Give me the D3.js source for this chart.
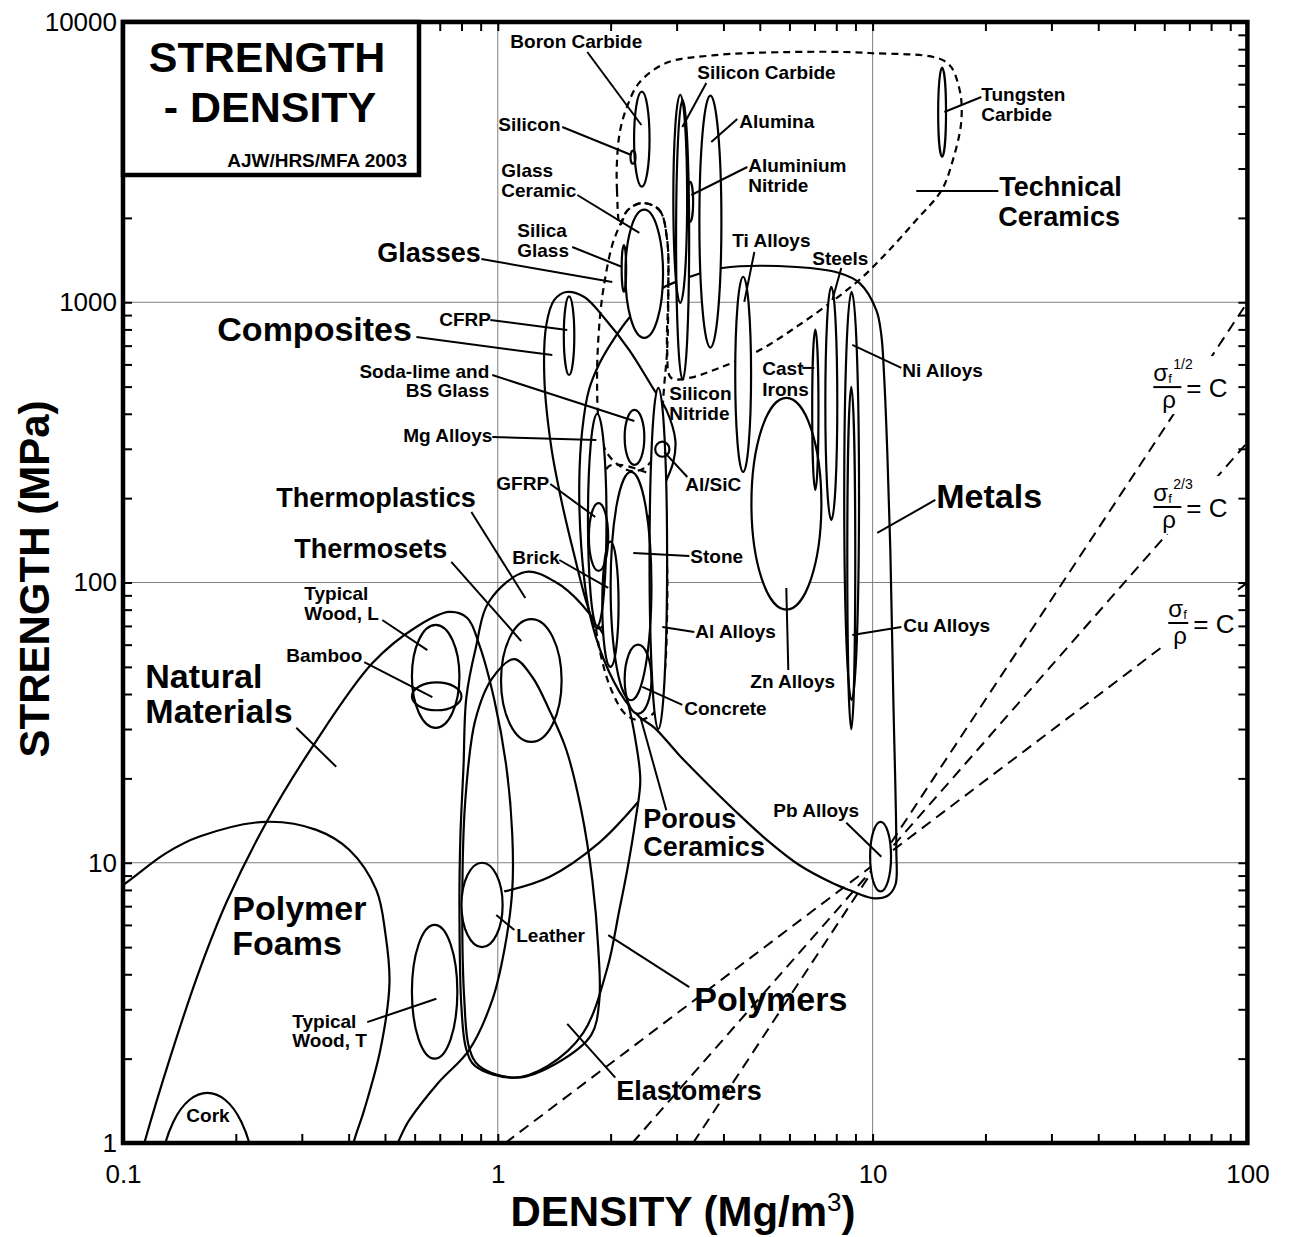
<!DOCTYPE html>
<html><head><meta charset="utf-8">
<script src="https://cdn.jsdelivr.net/npm/d3@7"></script>
<style>body{margin:0;background:#fff}svg{display:block}</style>
</head><body>
<svg id="chart" width="1293" height="1237"></svg>
<script>
// ---------------- DATA (density Mg/m3, strength MPa) ----------------
const xTickValues = [0.1, 1, 10, 100];
const xTickLabels = ["0.1", "1", "10", "100"];
const yTickValues = [1, 10, 100, 1000, 10000];
const yTickLabels = ["1", "10", "100", "1000", "10000"];

// material bubbles: [name, densityMin, densityMax, strengthMin, strengthMax]
const materials = [
  ["Boron carbide", 2.31, 2.54, 2584, 5640],
  ["Silicon", 2.26, 2.33, 3120, 3475],
  ["Silicon nitride", 2.99, 3.24, 529, 5280],
  ["Silicon carbide", 2.94, 3.2, 995, 5500],
  ["Aluminium nitride", 3.2, 3.32, 1935, 2690],
  ["Alumina", 3.45, 3.95, 689, 5460],
  ["Glass ceramic", 2.19, 2.76, 746, 2140],
  ["Silica glass", 2.14, 2.2, 1090, 1600],
  ["Tungsten carbide", 14.96, 15.7, 3300, 6870],
  ["Soda-lime and BS glass", 2.18, 2.46, 263, 413],
  ["Al/SiC", 2.63, 2.87, 281, 318],
  ["CFRP", 1.5, 1.6, 550, 1050],
  ["Mg alloys", 1.74, 1.95, 70, 400],
  ["GFRP", 1.75, 1.97, 110, 192],
  ["Al alloys", 2.54, 2.83, 30, 495],
  ["Stone", 2.0, 2.57, 38, 248],
  ["Brick", 1.9, 2.1, 50, 140],
  ["Concrete", 2.18, 2.57, 34, 60],
  ["Ti alloys", 4.3, 4.74, 248, 1233],
  ["Zn alloys", 4.75, 7.3, 80, 456],
  ["Cast irons", 6.9, 7.17, 214, 798],
  ["Steels", 7.48, 8.05, 167, 1135],
  ["Ni alloys", 8.4, 9.2, 38, 1090],
  ["Cu alloys", 8.56, 8.99, 30, 499],
  ["Pb alloys", 9.85, 11.2, 7.9, 14],
  ["Typical wood, L", 0.59, 0.79, 30.3, 70.6],
  ["Bamboo", 0.59, 0.8, 35, 44],
  ["Typical wood, T", 0.59, 0.78, 2.0, 6.0],
  ["Leather", 0.8, 1.03, 5.0, 10],
  ["Cork", 0.125, 0.2255, 0.3, 1.51]
];

// family envelopes (solid)
const metalsEnvelope = [[2.39,33.1],[2.18,38.1],[1.92,52.9],[1.75,79.8],[1.67,134],[1.65,232],[1.68,350],[1.75,486],[1.87,607],[2.05,746],[2.24,879],[2.46,1000],[2.75,1124],[3.24,1230],[3.97,1325],[6.26,1336],[8.15,1272],[9.22,1172],[10.23,938],[10.55,764],[10.74,537],[10.94,297],[11.15,131],[11.36,38.1],[11.57,11.1],[11.5,8.33],[10.94,7.61],[9.98,7.48],[8.67,7.99],[7.81,8.47],[6.37,9.82],[5.21,12.1],[4.28,15.4],[3.6,19.3],[3.05,24.2],[2.62,30.3]];
const compositesEnvelope = [[1.523,1088],[1.701,1044],[1.924,879],[2.243,675],[2.584,498],[2.816,413],[2.976,322],[2.939,269],[2.782,223],[2.506,167],[2.243,120],[2.046,86.6],[1.924,70.5],[1.832,68.8],[1.733,83.1],[1.6,125],[1.477,197],[1.389,304],[1.331,537],[1.347,829],[1.415,1019]];
const naturalEnvelope = [[0.104,0.63],[0.114,1.0],[0.133,1.98],[0.16,4.14],[0.19,7.36],[0.241,13.9],[0.32,25.9],[0.463,51.6],[0.606,69.4],[0.742,78.5],[0.829,74.7],[0.893,59.8],[0.979,38.1],[1.054,22.0],[1.093,12.6],[1.093,8.0],[1.041,4.88],[0.967,3.24],[0.839,2.15],[0.694,1.64],[0.581,1.21],[0.483,0.80],[0.217,0.49]];
const foamsEnvelope = [[0.0676,3.82],[0.0864,7.36],[0.1,8.33],[0.13,10.8],[0.16,12.4],[0.241,14.0],[0.328,13.1],[0.402,11.1],[0.474,8.0],[0.501,5.62],[0.514,3.72],[0.486,2.15],[0.44,1.31],[0.412,1.0],[0.39,0.68],[0.16,0.49],[0.0676,0.94]];
const polymersEnvelope = [[1.184,109],[1.415,101],[1.68,83.1],[2.0,58.4],[2.215,38.1],[2.33,27.4],[2.40,19.7],[2.33,14.2],[2.215,9.42],[2.11,6.78],[1.96,4.21],[1.69,2.47],[1.356,1.88],[1.10,1.71],[0.871,1.88],[0.824,2.16],[0.80,3.03],[0.79,7.13],[0.795,12.6],[0.81,22.0],[0.824,38.7],[0.871,57.4],[0.95,85.9]];
const polymersLowerEdge = [[2.37,16.5],[1.866,11.8],[1.372,8.9],[1.04,7.9]];
const elastomersEnvelope = [[1.106,53.3],[1.236,46.0],[1.372,35.1],[1.523,25.3],[1.67,15.4],[1.787,8.68],[1.855,4.88],[1.866,3.24],[1.776,2.43],[1.459,1.95],[1.127,1.71],[0.8925,1.88],[0.839,2.18],[0.814,3.24],[0.804,7.36],[0.819,16.7],[0.871,32.3],[0.967,45.6]];
const thermosetsEnvelope = [1.02, 1.48, 27, 74];

// family envelopes (dashed)
const techCeramicsEnvelope = [[2.12,1890],[2.08,2500],[2.08,3200],[2.12,4100],[2.22,5050],[2.39,6100],[2.82,7150],[3.74,7600],[5.64,7800],[9.8,7750],[15.7,7200],[17.0,5850],[17.25,4450],[16.3,3150],[15.25,2500],[13.1,1970],[11.1,1540],[9.4,1230],[7.9,1020],[6.37,830],[5.0,675],[3.9,583],[3.24,537],[2.9,537],[2.83,675],[2.85,1100],[2.83,1670],[2.7,2130],[2.43,2260],[2.22,2130]];
const glassesEnvelope = [[2.43,2260],[2.7,2130],[2.83,1670],[2.85,1100],[2.83,675],[2.78,507],[2.73,380],[2.62,285],[2.46,256],[2.27,250],[2.08,265],[1.95,292],[1.87,350],[1.84,537],[1.87,865],[1.92,1150],[2.02,1600],[2.12,1890],[2.22,2130]];
const porousCeramicsEnvelope = [[2.11,263],[2.39,252],[2.62,236],[2.75,197],[2.82,131],[2.83,78],[2.77,45],[2.62,34.5],[2.39,32.3],[2.2,33.7],[2.01,41.3],[1.87,57.4],[1.8,86.6],[1.83,154],[1.9,232],[1.98,260]];

// performance-index guide lines: [[d1,s1],[d2,s2]]
const guideLines = [
  [[3.32, 1], [100, 1000]],
  [[2.285, 1], [100, 316]],
  [[1.047, 1], [100, 100]]
];
const guideLabels = [
  { num: "1/2", d: 56.1, s: 498 },
  { num: "2/3", d: 56.1, s: 186 },
  { num: "", d: 61.5, s: 71.7 }
];

// labels: [text, density, strength, sizeClass, anchor]
const labels = [
  ["Boron Carbide",1.08,8075,"s"],["Silicon Carbide",3.406,6260,"s"],["Silicon",1.003,4083,"s"],
  ["Alumina",4.409,4186,"s"],["Aluminium",4.659,2916,"s"],["Nitride",4.659,2474,"s"],
  ["Glass",1.022,2799,"s"],["Ceramic",1.022,2375,"s"],["Silica",1.127,1709,"s"],["Glass",1.127,1450,"s"],
  ["Glasses",0.477,1392,"m"],["Technical",21.78,2394,"m"],["Ceramics",21.65,1871,"m"],
  ["Tungsten",19.5,5225,"s"],["Carbide",19.5,4434,"s"],["Ti Alloys",4.224,1574,"s"],["Steels",6.905,1358,"s"],
  ["Ni Alloys",12.0,541,"s"],["Cast",5.078,550,"s"],["Irons",5.078,463,"s"],["Metals",14.79,184.5,"l"],
  ["Composites",0.1785,727,"l"],["CFRP",0.698,823,"s"],["Soda-lime and",0.9491,537,"s","end"],
  ["BS Glass",0.9491,459,"s","end"],["Silicon",2.868,448,"s"],["Nitride",2.868,380,"s"],
  ["Mg Alloys",0.9667,317,"s","end"],["Al/SiC",3.164,212,"s"],["GFRP",0.9908,213.9,"s"],
  ["Thermoplastics",0.2564,186,"m"],["Thermosets",0.2864,122.3,"m"],["Brick",1.093,116.4,"s"],
  ["Stone",3.263,117.4,"s"],["Al Alloys",3.365,63.4,"s"],["Concrete",3.145,33.7,"s"],
  ["Cu Alloys",12.07,66.6,"s"],["Zn Alloys",4.717,42.0,"s"],["Typical",0.3046,86.6,"s"],
  ["Wood, L",0.3046,73.5,"s"],["Bamboo",0.2727,52.0,"s"],["Natural",0.1147,42.0,"l"],
  ["Materials",0.1147,31.5,"l"],["Polymer",0.1957,6.25,"l"],["Foams",0.1957,4.69,"l"],
  ["Leather",1.12,5.22,"s"],["Typical",0.2829,2.57,"s"],["Wood, T",0.2829,2.20,"s"],
  ["Polymers",3.344,2.96,"l"],["Elastomers",2.071,1.42,"m"],["Porous",2.445,13.3,"m"],
  ["Ceramics",2.445,10.6,"m"],["Pb Alloys",5.434,14.6,"s"],["Cork",0.1476,1.19,"s"]
];

// leader lines: [d1, s1, d2, s2]
const leaders = [
  [1.733,7816,2.416,4291],[3.600,6058,3.107,4221],[1.486,4221,2.271,3353],[4.355,4507,3.712,3730],
  [4.631,3038,3.283,2414],[1.63,2414,2.386,1767],[1.58,1574,2.148,1336],[0.9036,1427,2.02,1181],
  [13.08,2495,21.65,2495],[15.54,4775,19.5,5400],[4.836,1511,4.546,1002],[8.251,1325,7.808,1019],
  [11.93,583,8.828,704],[6.493,583,6.99,583],[14.70,197,10.29,150.2],[0.6063,752,1.398,648],
  [0.955,864.5,1.532,796],[0.9667,550,2.313,377],[0.9667,330.6,1.832,322.5],[3.203,238,2.782,292],
  [1.381,224.6,1.82,171.3],[0.8499,178.5,1.184,88.1],[0.7515,118.4,1.155,61.8],[1.459,120.3,1.971,95.6],
  [3.243,124.3,2.299,127.4],[3.344,66.6,2.748,69.4],[3.107,36.6,2.43,42.4],[11.93,69.4,8.828,65.0],
  [5.958,48.7,5.885,95.6],[0.4918,73.5,0.6486,57.4],[0.4402,52.0,0.6689,39.0],[0.29,30.3,0.3707,22.0],
  [1.107,5.75,0.9908,6.51],[0.4484,2.70,0.6856,3.27],[3.243,3.60,1.971,5.52],[2.058,1.71,1.532,2.66],
  [2.816,15.4,2.401,33.1],[8.508,13.9,10.55,10.5]
];

// ---------------- DRAWING ----------------
const FONT = "'Liberation Sans', Arial, Helvetica, sans-serif";
const sizes = { s: 19, m: 27, l: 34 };
const svg = d3.select("#chart").attr("font-family", FONT);
const X0 = 123, X1 = 1247.4, Y0 = 22, Y1 = 1143;
const x = d3.scaleLog().domain([0.1, 100]).range([X0, X1]);
const y = d3.scaleLog().domain([1, 10000]).range([Y1, Y0]);

svg.append("rect").attr("width", 1293).attr("height", 1237).attr("fill", "#fff");
svg.append("defs").append("clipPath").attr("id", "plotClip")
  .append("rect").attr("x", X0).attr("y", Y0).attr("width", X1 - X0).attr("height", Y1 - Y0);

// gridlines at decades
const isDecade = d => Math.abs(Math.log10(d) - Math.round(Math.log10(d))) < 1e-9;
const decadeX = x.ticks().filter(d => isDecade(d) && d > 0.1 && d < 100);
const decadeY = y.ticks().filter(d => isDecade(d) && d > 1 && d < 10000);
const grid = svg.append("g").attr("stroke", "#808080").attr("stroke-width", 1);
grid.selectAll(".gx").data(decadeX).join("line")
  .attr("x1", d => x(d)).attr("x2", d => x(d)).attr("y1", Y0).attr("y2", Y1);
grid.selectAll(".gy").data(decadeY).join("line")
  .attr("y1", d => y(d)).attr("y2", d => y(d)).attr("x1", X0).attr("x2", X1);

const plot = svg.append("g").attr("clip-path", "url(#plotClip)");
const closed = d3.line().x(p => x(p[0])).y(p => y(p[1])).curve(d3.curveCatmullRomClosed.alpha(0.5));
const open = d3.line().x(p => x(p[0])).y(p => y(p[1])).curve(d3.curveCatmullRom.alpha(0.5));

const envStyle = sel => sel.attr("fill", "none").attr("stroke", "#000").attr("stroke-width", 2.2);
[metalsEnvelope, compositesEnvelope, naturalEnvelope, foamsEnvelope, polymersEnvelope, elastomersEnvelope]
  .forEach(env => plot.append("path").attr("d", closed(env)).call(envStyle));
plot.append("path").attr("d", open(polymersLowerEdge)).call(envStyle);

function ellipseGeom(d0, d1, s0, s1) {
  const xa = x(d0), xb = x(d1), ya = y(s1), yb = y(s0);
  return { cx: (xa + xb) / 2, cy: (ya + yb) / 2, rx: (xb - xa) / 2, ry: (yb - ya) / 2 };
}
const th = ellipseGeom(...thermosetsEnvelope);
plot.append("ellipse").attr("cx", th.cx).attr("cy", th.cy).attr("rx", th.rx).attr("ry", th.ry).call(envStyle);

[techCeramicsEnvelope, glassesEnvelope, porousCeramicsEnvelope].forEach(env =>
  plot.append("path").attr("d", closed(env)).call(envStyle).attr("stroke-dasharray", "7,5"));

// guide lines
plot.selectAll(".guide").data(guideLines).join("line")
  .attr("x1", d => x(d[0][0])).attr("y1", d => y(d[0][1]))
  .attr("x2", d => x(d[1][0])).attr("y2", d => y(d[1][1]))
  .attr("stroke", "#000").attr("stroke-width", 2).attr("stroke-dasharray", "11,7");

// material bubbles: fills first, then outlines
const geoms = materials.map(m => ellipseGeom(m[1], m[2], m[3], m[4]));
plot.selectAll(".efill").data(geoms).join("ellipse")
  .attr("cx", g => g.cx).attr("cy", g => g.cy).attr("rx", g => g.rx).attr("ry", g => g.ry)
  .attr("fill", "#fff").attr("stroke", "none");
plot.selectAll(".eline").data(geoms).join("ellipse")
  .attr("cx", g => g.cx).attr("cy", g => g.cy).attr("rx", g => g.rx).attr("ry", g => g.ry)
  .attr("fill", "none").attr("stroke", "#000").attr("stroke-width", 2.2);

// leader lines
plot.selectAll(".leader").data(leaders).join("line")
  .attr("x1", d => x(d[0])).attr("y1", d => y(d[1])).attr("x2", d => x(d[2])).attr("y2", d => y(d[3]))
  .attr("stroke", "#000").attr("stroke-width", 2);

// labels
svg.append("g").selectAll("text").data(labels).join("text")
  .attr("x", d => x(d[1])).attr("y", d => y(d[2]))
  .attr("font-size", d => sizes[d[3]]).attr("font-weight", 700)
  .attr("text-anchor", d => d[4] || "start").text(d => d[0]);

// guide line labels: stacked fraction, white backing so the dashed lines break around them
guideLabels.forEach(gl => {
  const bx = x(gl.d), by = y(gl.s);
  const barW = gl.num ? 28 : 20;
  const grp = svg.append("g").attr("fill", "#000");
  grp.append("rect").attr("x", bx - 3).attr("y", by - 31).attr("width", barW + 50).attr("height", 58)
    .attr("fill", "#fff");
  grp.append("line").attr("x1", bx).attr("x2", bx + barW).attr("y1", by).attr("y2", by)
    .attr("stroke", "#000").attr("stroke-width", 2);
  grp.append("text").attr("x", bx).attr("y", by - 6).attr("font-size", 24).text("σ");
  grp.append("text").attr("x", bx + 15).attr("y", by - 4).attr("font-size", 13).text("f");
  if (gl.num) grp.append("text").attr("x", bx + 20).attr("y", by - 18).attr("font-size", 14).text(gl.num);
  grp.append("text").attr("x", bx + barW / 2 - 5).attr("y", by + 21).attr("font-size", 24).text("ρ");
  grp.append("text").attr("x", bx + barW + 5).attr("y", by + 10).attr("font-size", 26).text("= C");
});

// minor ticks on four sides
const tickStroke = sel => { sel.select(".domain").remove(); sel.selectAll("line").attr("stroke-width", 2); };
const xt = x.ticks(), yt = y.ticks();
svg.append("g").attr("transform", `translate(0,${Y1})`).call(d3.axisBottom(x).tickValues(xt).tickSize(-9).tickFormat("")).call(tickStroke);
svg.append("g").attr("transform", `translate(0,${Y0})`).call(d3.axisTop(x).tickValues(xt).tickSize(-9).tickFormat("")).call(tickStroke);
svg.append("g").attr("transform", `translate(${X0},0)`).call(d3.axisLeft(y).tickValues(yt).tickSize(-9).tickFormat("")).call(tickStroke);
svg.append("g").attr("transform", `translate(${X1},0)`).call(d3.axisRight(y).tickValues(yt).tickSize(-9).tickFormat("")).call(tickStroke);

// tick labels
const xl = svg.append("g").attr("transform", `translate(0,${Y1})`)
  .call(d3.axisBottom(x).tickValues(xTickValues).tickFormat((d, i) => xTickLabels[i]).tickSize(0).tickPadding(22));
xl.select(".domain").remove();
xl.selectAll("text").attr("font-size", 26).attr("font-family", FONT).attr("fill", "#000");
const yl = svg.append("g").attr("transform", `translate(${X0},0)`)
  .call(d3.axisLeft(y).tickValues(yTickValues).tickFormat((d, i) => yTickLabels[i]).tickSize(0).tickPadding(6));
yl.select(".domain").remove();
yl.selectAll("text").attr("font-size", 26).attr("font-family", FONT).attr("fill", "#000");

// frame
svg.append("rect").attr("x", X0).attr("y", Y0).attr("width", X1 - X0).attr("height", Y1 - Y0)
  .attr("fill", "none").attr("stroke", "#000").attr("stroke-width", 4.5);

// title box
svg.append("rect").attr("x", X0).attr("y", Y0).attr("width", 296).attr("height", 153)
  .attr("fill", "#fff").attr("stroke", "#000").attr("stroke-width", 4.5);
svg.append("text").attr("x", 267).attr("y", 72).attr("text-anchor", "middle")
  .attr("font-size", 43).attr("font-weight", 700).text("STRENGTH");
svg.append("text").attr("x", 270).attr("y", 122).attr("text-anchor", "middle")
  .attr("font-size", 43).attr("font-weight", 700).text("- DENSITY");
svg.append("text").attr("x", 407).attr("y", 167).attr("text-anchor", "end")
  .attr("font-size", 19).attr("font-weight", 700).text("AJW/HRS/MFA 2003");

// axis titles
const xTitle = svg.append("text").attr("x", 683).attr("y", 1226).attr("text-anchor", "middle")
  .attr("font-size", 42).attr("font-weight", 700);
xTitle.append("tspan").text("DENSITY (Mg/m");
xTitle.append("tspan").attr("dy", -15).attr("font-size", 26).attr("font-weight", 400).text("3");
xTitle.append("tspan").attr("dy", 15).text(")");
svg.append("text").attr("transform", "translate(49,579) rotate(-90)").attr("text-anchor", "middle")
  .attr("font-size", 42).attr("font-weight", 700).text("STRENGTH (MPa)");
</script>
</body></html>
